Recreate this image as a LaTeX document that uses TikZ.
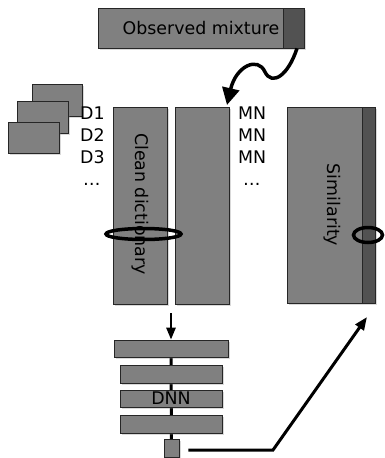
\documentclass[tikz,border=0pt]{standalone}
\usepackage{fontspec}
\setmainfont{DejaVu Sans}
\usetikzlibrary{arrows.meta, positioning, shadows, backgrounds}

\begin{document}
\begin{tikzpicture}[x=1pt, y=-1pt,
  blk/.style={draw=black!85, fill=black!50, line width=0.7pt, inner sep=0pt,
    drop shadow={shadow xshift=2pt, shadow yshift=-2pt, opacity=0.3}},
  strip/.style={draw=black!85, fill=black!68, line width=0.7pt, inner sep=0pt},
  lbl/.style={font=\fontsize{17.4}{20}\selectfont, inner sep=0pt}]

\useasboundingbox (0,0) rectangle (384,458);

% ========== observed mixture ==========
\node[blk, minimum width=206, minimum height=40] (mix) at (201,28) {};
\node[strip, minimum width=21, minimum height=40] (mixend) at (293.5,28) {};
\node[lbl] (mixtxt) at (201,28) {Observed mixture};

% ========== clean dictionary stack ==========
\node[blk, minimum width=50, minimum height=32] (d1) at (57,100) {};
\node[blk, minimum width=51, minimum height=32] (d2) at (42.5,117) {};
\node[blk, minimum width=51, minimum height=31] (d3) at (33.5,137.5) {};

\foreach \i in {1,2,3} {
  \node[lbl, anchor=base west] (dl\i) at (80,{119+22*(\i-1)}) {D\i};
  \node[lbl, anchor=base west] (ml\i) at (238,{119+22*(\i-1)}) {MN};
}
\node[lbl, anchor=base west] (dlx) at (83,185) {\ldots};
\node[lbl, anchor=base west] (mlx) at (243,185) {\ldots};

% ========== dictionaries and similarity ==========
\node[blk, minimum width=54, minimum height=197] (clean) at (140,205.5) {};
\node[lbl, rotate=-90] (cleantxt) at (140,204) {Clean dictionary};
\node[blk, minimum width=54, minimum height=197] (mixdict) at (202,205.5) {};

\node[blk, minimum width=88, minimum height=196] (sim) at (331,205) {};
\node[strip, minimum width=13, minimum height=196] (simend) at (368.5,205) {};
\node[lbl, rotate=-90] (simtxt) at (332,205) {Similarity};

% selected frames
\draw[line width=3.5pt] (143.5,234) ellipse [x radius=37.5, y radius=5.5];
\draw[line width=3.5pt] (368,235) ellipse [x radius=14.5, y radius=7.5];

% curved arrow from the mixture
\coordinate (mixtip) at (227,105);
\draw[line width=3.5pt, -{Triangle[length=17pt, width=17pt]}]
  ([xshift=3.5pt]mixend.south) .. controls (288,76) and (272,86) .. (265,72)
  .. controls (258,56) and (236,66) .. (mixtip);

% ========== DNN ==========
\node[blk, minimum width=114, minimum height=17] (l1) at (171,348.5) {};
\node[blk, minimum width=102, minimum height=18] (l2) at (171,374) {};
\node[blk, minimum width=102, minimum height=17] (l3) at (171,398.5) {};
\node[lbl] (dnntxt) at (171,398.5) {DNN};
\node[blk, minimum width=102, minimum height=18] (l4) at (171,424) {};
\node[blk, minimum width=15, minimum height=18] (out) at (171.5,448) {};

\begin{scope}[on background layer]
  \draw[line width=3pt] (l1.center) -- (out.center);
\end{scope}

\coordinate (dnnin) at (171,313);
\draw[line width=2.5pt, -{Triangle[length=12pt, width=9pt]}] (dnnin) -- (l1.north);

\coordinate (bend) at (273,450);
\coordinate (simtip) at (367,317);
\draw[line width=3pt, -{Triangle[length=13pt, width=10pt]}]
  ([xshift=9pt]out.east |- 0,450) -- (bend) -- (simtip);

\end{tikzpicture}
\end{document}
